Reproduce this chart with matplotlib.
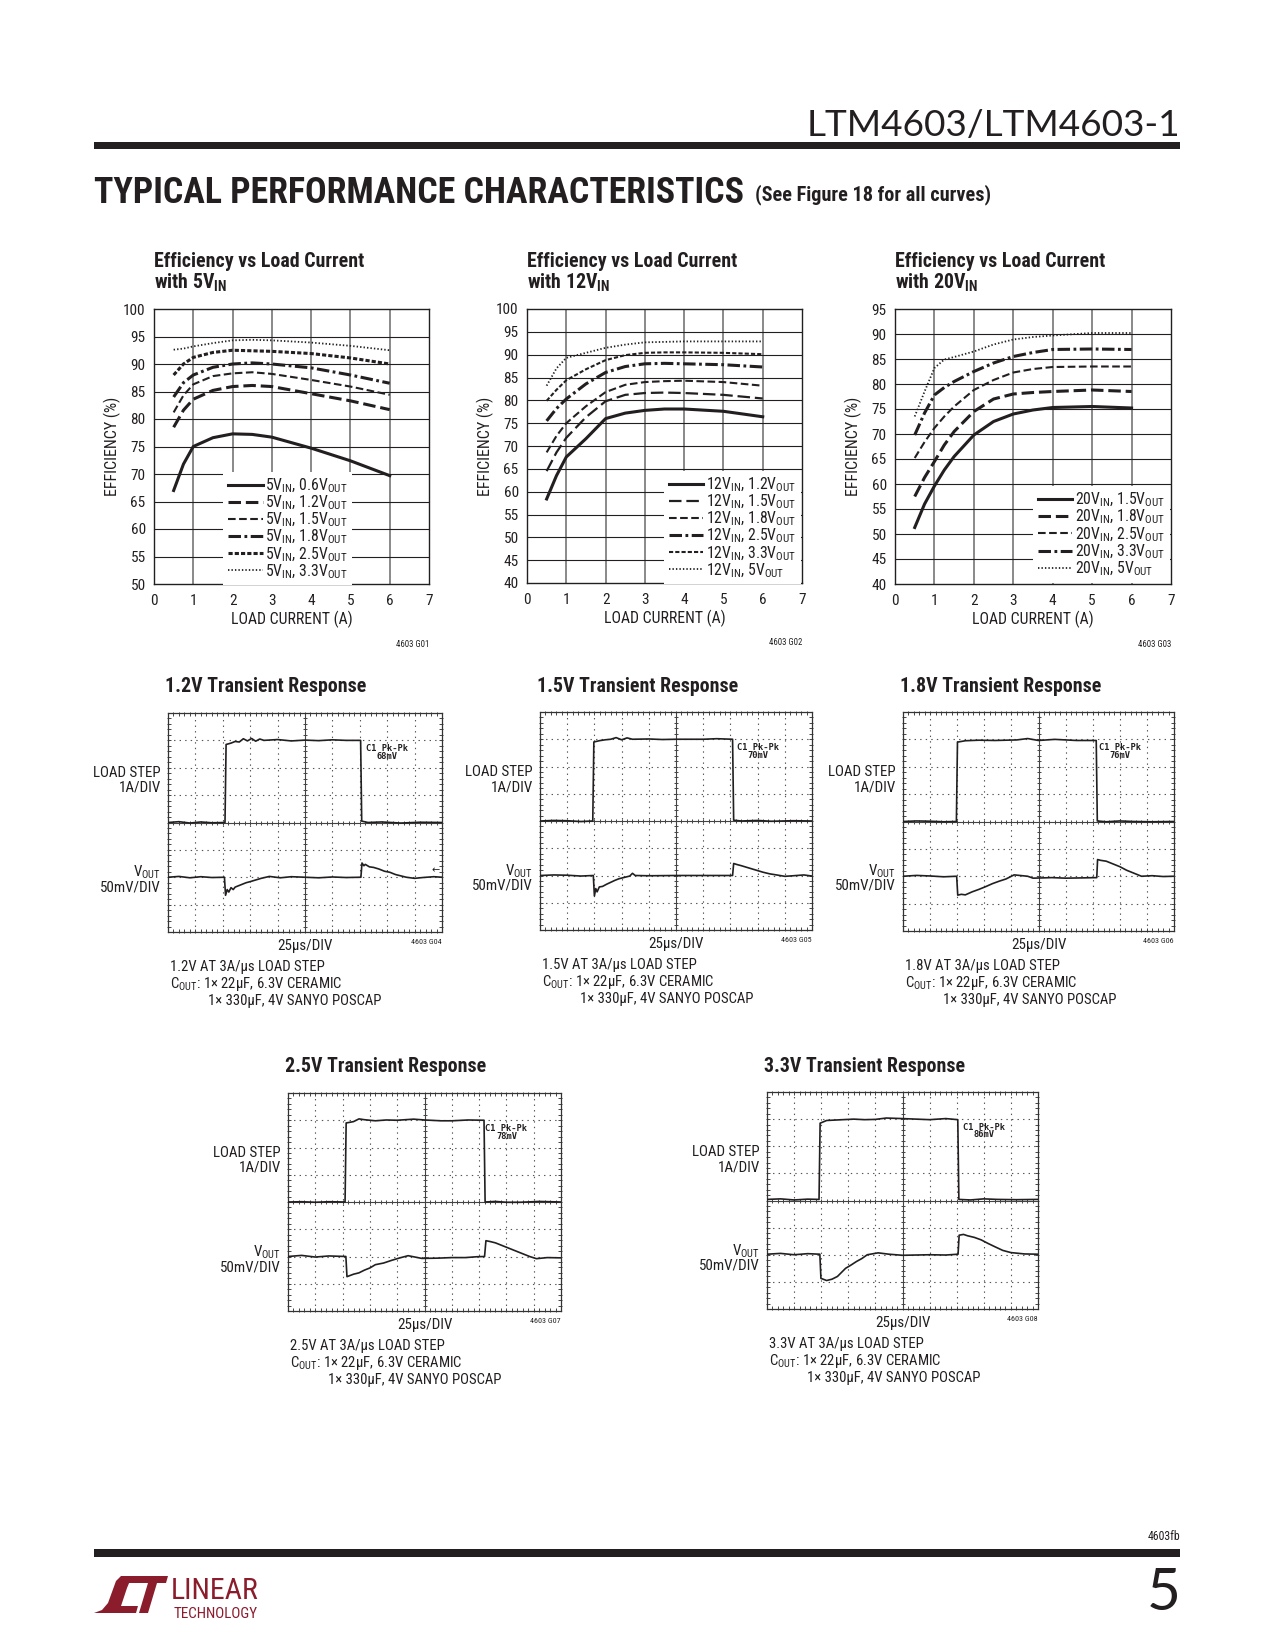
import numpy as np
import matplotlib
matplotlib.use("Agg")
from matplotlib import pyplot as plt
from matplotlib import font_manager as fm
from matplotlib.patches import Polygon, Rectangle

W, H = 1275, 1650
INK = '#231f20'
RED = '#8b1c2c'

# ---- efficiency data ----
LOAD_5V = [0.5, 0.75, 1, 1.5, 2, 2.5, 3, 4, 5, 6]
EFF_5V_06 = [67.0, 71.8, 75.0, 76.6, 77.3, 77.2, 76.7, 74.7, 72.4, 69.7]
EFF_5V_12 = [78.5, 81.6, 83.6, 85.2, 85.9, 86.1, 85.9, 84.6, 83.3, 81.7]
EFF_5V_15 = [81.2, 84.3, 86.3, 87.8, 88.3, 88.5, 88.2, 87.1, 85.9, 84.4]
EFF_5V_18 = [84.0, 86.6, 88.0, 89.4, 90.0, 90.2, 90.0, 89.3, 88.0, 86.5]
EFF_5V_25 = [88.0, 90.0, 91.2, 92.1, 92.5, 92.4, 92.3, 91.9, 91.1, 90.0]
EFF_5V_33 = [92.6, 92.8, 93.2, 93.8, 94.3, 94.4, 94.3, 93.9, 93.3, 92.5]
LABELS_5V = ['0.6', '1.2', '1.5', '1.8', '2.5', '3.3']

LOAD_12V = [0.5, 0.75, 1, 1.5, 2, 2.5, 3, 3.5, 4, 5, 6]
EFF_12V_12 = [58.4, 63.5, 67.6, 71.6, 76.0, 77.2, 77.8, 78.1, 78.1, 77.6, 76.4]
EFF_12V_15 = [64.5, 68.6, 71.8, 76.3, 79.8, 81.2, 81.6, 81.7, 81.6, 81.2, 80.4]
EFF_12V_18 = [68.6, 72.2, 75.0, 78.7, 81.8, 83.4, 84.0, 84.2, 84.3, 84.0, 83.2]
EFF_12V_25 = [75.5, 78.2, 80.3, 83.6, 86.1, 87.4, 88.0, 88.1, 88.0, 87.8, 87.3]
EFF_12V_33 = [79.9, 82.3, 84.4, 86.8, 88.8, 89.9, 90.4, 90.5, 90.5, 90.4, 90.1]
EFF_12V_50 = [83.2, 87.0, 89.3, 90.4, 91.5, 92.2, 92.7, 92.8, 92.9, 92.9, 92.9]
LABELS_12V = ['1.2', '1.5', '1.8', '2.5', '3.3', '5']

LOAD_20V = [0.5, 0.75, 1, 1.25, 1.5, 2, 2.5, 3, 3.5, 4, 5, 6]
EFF_20V_15 = [51.3, 56.0, 59.6, 62.8, 65.5, 69.8, 72.5, 74.0, 74.8, 75.3, 75.5, 75.2]
EFF_20V_18 = [57.5, 61.3, 64.5, 67.8, 70.5, 74.5, 77.0, 78.0, 78.3, 78.5, 78.8, 78.5]
EFF_20V_25 = [65.2, 68.4, 71.2, 73.5, 75.5, 78.8, 80.8, 82.3, 83.0, 83.4, 83.5, 83.5]
EFF_20V_33 = [69.8, 74.2, 77.8, 79.3, 80.5, 82.5, 84.2, 85.5, 86.3, 86.9, 87.0, 86.9]
EFF_20V_50 = [73.5, 78.5, 83.2, 84.9, 85.4, 86.5, 87.9, 88.9, 89.4, 89.7, 90.2, 90.2]
LABELS_20V = ['1.5', '1.8', '2.5', '3.3', '5']

# ---- scope traces, in divisions (10 x 8 screen) ----
STEP_12_T = [0, 0.4, 0.8, 1.2, 1.6, 2.08, 2.12, 2.3, 2.45, 2.6, 2.75, 2.9, 3.05, 3.2, 3.35, 3.5, 4.0,
             4.5, 5.0, 5.5, 6.0, 6.5, 7.03, 7.07, 7.3, 7.8, 8.5, 9.2, 10]
STEP_12_Y = [4.0, 4.03, 3.98, 4.02, 3.99, 4.0, 6.85, 6.9, 6.96, 6.94, 7.06, 6.98, 7.07, 6.97, 7.05,
             7.0, 7.03, 6.98, 7.01, 6.99, 7.02, 7.0, 7.0, 4.05, 4.0, 4.02, 3.98, 4.01, 4.0]
VOUT_12_T = [0, 0.4, 0.8, 1.2, 1.6, 2.06, 2.1, 2.16, 2.22, 2.3, 2.38, 2.45, 2.6, 2.7, 2.85, 3.0, 3.2,
             3.4, 3.7, 4.1, 4.5, 5.0, 5.5, 6.0, 6.5, 7.04, 7.08, 7.15, 7.2, 7.35, 7.5, 7.7, 7.9, 8.1,
             8.3, 8.5, 8.7, 9.0, 9.3, 9.7, 10]
VOUT_12_Y = [2.0, 2.03, 1.98, 2.02, 1.99, 2.0, 1.34, 1.55, 1.46, 1.62, 1.55, 1.64, 1.7, 1.74, 1.8,
             1.84, 1.9, 1.96, 2.03, 1.98, 2.02, 2.0, 1.98, 2.01, 1.99, 2.0, 2.52, 2.42, 2.47, 2.38,
             2.36, 2.3, 2.22, 2.18, 2.1, 2.05, 2.0, 1.96, 1.99, 2.02, 2.0]

STEP_15_T = [0, 0.5, 1.0, 1.5, 1.94, 1.98, 2.2, 2.4, 2.6, 2.8, 3.0, 3.2, 3.4, 4.0, 4.5, 5.0, 6.0, 6.5,
             7.08, 7.12, 7.4, 8.0, 8.5, 9.3, 10]
STEP_15_Y = [4.0, 4.02, 4.01, 3.98, 4.0, 6.9, 6.95, 6.98, 7.0, 7.06, 6.98, 7.05, 7.0, 7.01, 6.99,
             7.0, 7.0, 7.02, 7.0, 4.03, 4.0, 4.02, 3.99, 4.01, 4.0]
VOUT_15_T = [0, 0.5, 1.0, 1.5, 1.96, 2.0, 2.05, 2.1, 2.18, 2.3, 2.45, 2.6, 2.75, 2.9, 3.1, 3.3, 3.4,
             3.5, 4.0, 5.0, 6.0, 7.08, 7.12, 7.25, 7.4, 7.6, 7.8, 8.0, 8.2, 8.45, 8.7, 9.0, 9.3, 9.7, 10]
VOUT_15_Y = [2.0, 2.02, 2.01, 1.98, 2.0, 1.25, 1.52, 1.4, 1.58, 1.6, 1.68, 1.75, 1.82, 1.88, 1.93,
             1.98, 2.08, 2.0, 1.99, 2.0, 2.0, 2.0, 2.44, 2.4, 2.36, 2.3, 2.24, 2.18, 2.12, 2.06, 2.02,
             1.97, 1.99, 2.02, 1.98]

STEP_18_T = [0, 0.5, 1.0, 1.5, 1.97, 2.01, 2.3, 2.8, 3.4, 4.2, 4.6, 5.0, 5.6, 6.4, 7.13, 7.17, 7.5,
             8.0, 8.5, 9.2, 10]
STEP_18_Y = [4.0, 4.02, 4.01, 3.99, 4.0, 6.9, 6.95, 6.97, 6.96, 6.98, 7.03, 6.96, 7.0, 6.96, 6.96,
             4.02, 3.99, 4.02, 4.0, 3.99, 4.0]
VOUT_18_T = [0, 0.5, 1.0, 1.5, 1.98, 2.02, 2.15, 2.3, 2.55, 2.8, 3.05, 3.3, 3.55, 3.8, 4.1, 4.6, 4.8,
             5.5, 6.0, 6.6, 7.15, 7.18, 7.3, 7.5, 7.75, 8.0, 8.25, 8.5, 8.8, 9.2, 9.6, 10]
VOUT_18_Y = [2.0, 2.03, 2.01, 1.98, 2.0, 1.31, 1.34, 1.32, 1.43, 1.52, 1.62, 1.73, 1.82, 1.9, 2.05,
             2.0, 1.93, 1.95, 1.93, 1.94, 1.95, 2.61, 2.58, 2.55, 2.45, 2.35, 2.22, 2.12, 2.0, 2.02,
             1.99, 2.0]

STEP_25_T = [0, 0.5, 1.0, 1.5, 2.09, 2.13, 2.4, 2.6, 2.8, 3.2, 3.6, 4.0, 4.6, 5.0, 5.6, 6.0, 6.6,
             7.18, 7.22, 7.6, 8.0, 8.5, 9.2, 10]
STEP_25_Y = [4.0, 4.01, 3.99, 4.01, 4.0, 6.9, 6.95, 7.05, 7.02, 6.98, 7.01, 7.0, 7.04, 7.01, 6.98,
             6.98, 7.01, 7.0, 4.0, 4.02, 3.99, 3.99, 4.02, 4.0]
VOUT_25_T = [0, 0.5, 1.0, 1.5, 2.12, 2.16, 2.4, 2.6, 2.8, 3.0, 3.2, 3.5, 3.8, 4.1, 4.4, 4.9, 5.5, 6.0,
             6.5, 6.9, 7.2, 7.25, 7.4, 7.6, 7.85, 8.1, 8.35, 8.6, 8.85, 9.1, 9.5, 10]
VOUT_25_Y = [2.0, 2.04, 1.98, 2.02, 2.0, 1.26, 1.35, 1.4, 1.5, 1.58, 1.7, 1.76, 1.86, 1.95, 2.03, 1.93,
             1.94, 1.96, 1.96, 1.99, 2.0, 2.58, 2.55, 2.5, 2.4, 2.3, 2.2, 2.1, 2.0, 1.92, 1.96, 1.95]

STEP_33_T = [0, 0.5, 1.0, 1.5, 1.92, 1.96, 2.2, 2.6, 3.2, 3.6, 4.0, 4.4, 5.0, 6.0, 6.6, 7.04, 7.08,
             7.5, 8.0, 8.5, 9.2, 10]
STEP_33_Y = [4.04, 4.06, 4.02, 4.05, 4.04, 6.85, 6.95, 6.97, 7.0, 6.98, 6.99, 7.04, 7.02, 6.98, 7.02,
             6.98, 4.04, 4.02, 4.06, 4.04, 4.03, 4.04]
VOUT_33_T = [0, 0.5, 1.0, 1.5, 1.95, 1.99, 2.2, 2.4, 2.6, 2.75, 2.9, 3.1, 3.3, 3.5, 3.7, 4.1, 4.5,
             5.0, 6.0, 6.6, 7.05, 7.09, 7.25, 7.4, 7.65, 7.9, 8.15, 8.4, 8.7, 9.0, 9.5, 10]
VOUT_33_Y = [2.02, 2.05, 2.0, 2.04, 2.02, 1.13, 1.05, 1.1, 1.2, 1.35, 1.5, 1.62, 1.75, 1.86, 2.0,
             2.07, 2.02, 1.98, 2.0, 1.99, 2.02, 2.72, 2.75, 2.7, 2.64, 2.55, 2.42, 2.3, 2.16, 2.08,
             2.03, 2.02]

DASHES = {
    'solid': (None, 2.2),
    'long': ((9, 3.5), 2.2),
    'long_thin': ((9, 3.5), 1.6),
    'mid': ((5.5, 2.5), 1.5),
    'dashdot': ((9, 2.5, 2, 2.5), 2.2),
    'short': ((3, 1.5), 2.2),
    'short_thin': ((3, 1.5), 1.5),
    'dot': ((1, 1.5), 1.3),
}


# ---- find a condensed sans (datasheet look) and register it as 'CondSans' ----
STRETCH = {'ultra-condensed': 50, 'extra-condensed': 62.5, 'condensed': 75,
           'semi-condensed': 87.5, 'normal': 100}
PREF = ['Liberation Sans Narrow', 'Arial Narrow', 'Roboto Condensed', 'Open Sans Condensed',
        'Noto Sans', 'Open Sans', 'Noto Sans Display', 'DejaVu Sans', 'Fira Sans Condensed',
        'IBM Plex Sans Condensed']


def stretch_val(s):
    if isinstance(s, (int, float)):
        return s
    return STRETCH.get(s, 100)


def find_condensed(weight):
    best = None
    for f in fm.fontManager.ttflist:
        if f.style != 'normal' or f.name not in PREF:
            continue
        narrow = 'Narrow' in f.name or 'Condensed' in f.name or stretch_val(f.stretch) < 100
        if not narrow:
            continue
        w = f.weight if isinstance(f.weight, (int, float)) else fm.weight_dict.get(f.weight, 400)
        score = (PREF.index(f.name), abs(w - weight), abs(stretch_val(f.stretch) - 75))
        if best is None or score < best[0]:
            best = (score, f.fname)
    if best is None:
        prop = fm.FontProperties(family='Liberation Sans', weight=weight)
        return fm.findfont(prop)
    return best[1]


for wt in (400, 700):
    fm.fontManager.ttflist.append(fm.FontEntry(fname=find_condensed(wt), name='CondSans',
                                               style='normal', variant='normal', weight=wt,
                                               stretch='normal', size='scalable'))

plt.rcParams['font.family'] = ['CondSans', 'DejaVu Sans']
plt.rcParams['lines.scale_dashes'] = False
plt.rcParams['mathtext.fontset'] = 'custom'
plt.rcParams['mathtext.rm'] = 'CondSans'
plt.rcParams['mathtext.bf'] = 'CondSans:bold'


def px_axes(fig, x0, y0, x1, y1):
    return fig.add_axes([x0 / W, 1 - y1 / H, (x1 - x0) / W, (y1 - y0) / H])


def ftext(fig, x, y, s, width=None, **kw):
    kw.setdefault('color', INK)
    t = fig.text(x / W, 1 - y / H, s, **kw)
    if width:
        r = fig.canvas.get_renderer()
        w = t.get_window_extent(r).width
        t.set_fontsize(t.get_fontsize() * width / w)
    return t


def sub(s):
    return r'$\mathregular{_{%s}}$' % s


def eff_chart(fig, box, ymin, ymax, vin, load, series, vouts, styles, legend_anchor, fig_id):
    x0, y0, x1, y1 = box
    ax = px_axes(fig, x0, y0, x1, y1)
    ax.set_xlim(0, 7)
    ax.set_ylim(ymin, ymax)
    ax.set_xticks(range(0, 8))
    ax.set_yticks(range(ymin, ymax + 1, 5))
    for xv in range(1, 7):
        ax.axvline(xv, color='#6a6a6a', lw=1.1, zorder=1)
    for yv in range(ymin + 5, ymax, 5):
        ax.axhline(yv, color=INK, lw=0.8, zorder=1)
    for sp in ax.spines.values():
        sp.set_color(INK)
        sp.set_linewidth(1.0)
    ax.tick_params(length=0, labelsize=11, labelcolor=INK)
    ax.tick_params(axis='y', pad=6)
    ax.tick_params(axis='x', pad=7)

    handles = []
    for vals, vout, st in zip(series, vouts, styles):
        dash, lw = DASHES[st]
        ln, = ax.plot(load, vals, color=INK, lw=lw, zorder=3,
                      label=f'{vin}V{sub("IN")}, {vout}V{sub("OUT")}')
        if dash is not None:
            ln.set_dashes(dash)
        handles.append(ln)
    leg = ax.legend(handles=handles, loc='lower right', bbox_to_anchor=legend_anchor,
                    frameon=True, facecolor='white', edgecolor='none', framealpha=1,
                    fancybox=False, fontsize=11.3, handlelength=2.2, handletextpad=0.15,
                    labelspacing=-0.08, borderpad=0.3, borderaxespad=0)
    leg.set_zorder(5)
    for t in leg.get_texts():
        t.set_color(INK)

    cx = (x0 + x1) / 2
    t = ftext(fig, x0, y0 - 42, 'Efficiency vs Load Current', width=209, fontsize=14.5,
              fontweight='bold', va='baseline')
    ftext(fig, x0, y0 - 20, f'with {vin}V' + r'$\mathbf{_{IN}}$', fontsize=t.get_fontsize(),
          fontweight='bold', va='baseline')
    ftext(fig, cx, y1 + 35, 'LOAD CURRENT (A)', fontsize=11.3, ha='center', va='center')
    ftext(fig, x0 - 42, (y0 + y1) / 2, 'EFFICIENCY (%)', fontsize=11.5, rotation=90,
          ha='center', va='center')
    ftext(fig, x1, y1 + 60, f'4603 {fig_id}', fontsize=6.3, ha='right', va='center')
    return ax


def scope_chart(fig, box, vout_name, step_t, step_y, vout_t, vout_y, pk, fig_id, arrow=False):
    x0, y0, x1, y1 = box
    ax = px_axes(fig, x0, y0, x1, y1)
    ax.set_xlim(0, 10)
    ax.set_ylim(0, 8)
    ax.set_xticks([])
    ax.set_yticks([])
    for xv in range(1, 10):
        if xv != 5:
            ax.axvline(xv, color='#555555', lw=0.8, dashes=(1, 3), zorder=1)
    for yv in range(1, 8):
        if yv != 4:
            ax.axhline(yv, color='#555555', lw=0.8, dashes=(1, 3), zorder=1)
    ax.axvline(5, color='#444444', lw=0.8, zorder=1)
    ax.axhline(4, color='#444444', lw=0.8, zorder=1)
    minor_x = np.arange(0.2, 10, 0.2)
    minor_y = np.arange(0.2, 8, 0.2)
    tick_kw = dict(color='#444444', mew=0.7, zorder=1, clip_on=False, ls='none')
    ax.plot(minor_x, np.full(len(minor_x), 4), marker='|', ms=3.5, **tick_kw)
    ax.plot(np.full(len(minor_y), 5), minor_y, marker='_', ms=3.5, **tick_kw)
    ax.plot(minor_x, np.full(len(minor_x), 0.04), marker='|', ms=3, **tick_kw)
    ax.plot(minor_x, np.full(len(minor_x), 7.96), marker='|', ms=3, **tick_kw)
    ax.plot(np.full(len(minor_y), 0.05), minor_y, marker='_', ms=3, **tick_kw)
    ax.plot(np.full(len(minor_y), 9.95), minor_y, marker='_', ms=3, **tick_kw)
    for sp in ax.spines.values():
        sp.set_color('#333333')
        sp.set_linewidth(0.9)

    ax.plot(step_t, step_y, color=INK, lw=1.2, zorder=3)
    ax.plot(vout_t, vout_y, color=INK, lw=1.2, zorder=3)
    if arrow:
        ax.text(9.93, 2.25, '\u2190', fontsize=7, family='DejaVu Sans', ha='right', va='center',
                color=INK)
    ax.text(8.0, 6.7, 'C1 Pk-Pk', fontsize=6.3, fontweight='bold', family='DejaVu Sans Mono',
            ha='center', va='center', color=INK)
    ax.text(8.0, 6.42, f'{pk}mV', fontsize=6.3, fontweight='bold', family='DejaVu Sans Mono',
            ha='center', va='center', color=INK)

    ftext(fig, x0 - 3, y0 - 26, f'{vout_name}V Transient Response', width=200, fontsize=13.5,
          fontweight='bold', va='center')
    lx = x0 - 7
    ftext(fig, lx, y0 + 60, 'LOAD STEP', fontsize=10.8, ha='right', va='center')
    ftext(fig, lx, y0 + 75, '1A/DIV', fontsize=10.8, ha='right', va='center')
    ftext(fig, lx, y0 + 159, 'V' + sub('OUT'), fontsize=10.8, ha='right', va='center')
    ftext(fig, lx, y0 + 174, '50mV/DIV', fontsize=10.8, ha='right', va='center')
    ftext(fig, (x0 + x1) / 2, y1 + 14, '25\u00b5s/DIV', fontsize=10.8, ha='center', va='center')
    ftext(fig, x1, y1 + 10, f'4603 {fig_id}', fontsize=5.8, ha='right', va='center')
    ftext(fig, x0 + 2, y1 + 35, f'{vout_name}V AT 3A/\u00b5s LOAD STEP', fontsize=10.6, va='center')
    ftext(fig, x0 + 2, y1 + 52, 'C' + sub('OUT') + ': 1\u00d7 22\u00b5F, 6.3V CERAMIC', fontsize=10.6,
          va='center')
    ftext(fig, x0 + 40, y1 + 69, '1\u00d7 330\u00b5F, 4V SANYO POSCAP', fontsize=10.6, va='center')
    return ax


def fig_rect(fig, x0, y0, x1, y1, color):
    fig.add_artist(Rectangle((x0 / W, 1 - y1 / H), (x1 - x0) / W, (y1 - y0) / H,
                             transform=fig.transFigure, color=color, lw=0))


def fig_poly(fig, pts, color):
    fig.add_artist(Polygon([(x / W, 1 - y / H) for x, y in pts], closed=True,
                           transform=fig.transFigure, color=color, lw=0))


fig = plt.figure(figsize=(W / 100, H / 100), dpi=100)
fig.patch.set_facecolor('white')

# header
ftext(fig, 1180, 136, 'LTM4603/LTM4603-1', width=374, fontsize=29, family=['Lato', 'DejaVu Sans'],
      ha='right', va='baseline')
fig_rect(fig, 94, 141.5, 1180, 149, INK)
ftext(fig, 94, 203, 'TYPICAL PERFORMANCE CHARACTERISTICS', width=651, fontsize=27,
      fontweight='bold', va='baseline')
ftext(fig, 755, 200, '(See Figure 18 for all curves)', width=236, fontsize=12.5,
      fontweight='bold', va='baseline')

# efficiency charts
eff_chart(fig, (154, 309, 429, 584), 50, 100, 5, LOAD_5V,
          [EFF_5V_06, EFF_5V_12, EFF_5V_15, EFF_5V_18, EFF_5V_25, EFF_5V_33], LABELS_5V,
          ['solid', 'long', 'mid', 'dashdot', 'short', 'dot'], (0.72, -0.005), 'G01')
eff_chart(fig, (527, 309, 802, 583), 40, 100, 12, LOAD_12V,
          [EFF_12V_12, EFF_12V_15, EFF_12V_18, EFF_12V_25, EFF_12V_33, EFF_12V_50], LABELS_12V,
          ['solid', 'long_thin', 'mid', 'dashdot', 'short_thin', 'dot'], (0.995, -0.005), 'G02')
eff_chart(fig, (895, 309, 1171, 584), 40, 95, 20, LOAD_20V,
          [EFF_20V_15, EFF_20V_18, EFF_20V_25, EFF_20V_33, EFF_20V_50], LABELS_20V,
          ['solid', 'long', 'mid', 'dashdot', 'dot'], (0.995, 0.005), 'G03')

# transient charts
scope_chart(fig, (168, 713, 442, 932), '1.2', STEP_12_T, STEP_12_Y, VOUT_12_T, VOUT_12_Y, 68, 'G04',
            arrow=True)
scope_chart(fig, (540, 712, 812, 930), '1.5', STEP_15_T, STEP_15_Y, VOUT_15_T, VOUT_15_Y, 70, 'G05')
scope_chart(fig, (903, 712, 1174, 931), '1.8', STEP_18_T, STEP_18_Y, VOUT_18_T, VOUT_18_Y, 76, 'G06')
scope_chart(fig, (288, 1093, 561, 1311), '2.5', STEP_25_T, STEP_25_Y, VOUT_25_T, VOUT_25_Y, 78, 'G07')
scope_chart(fig, (767, 1092, 1038, 1309), '3.3', STEP_33_T, STEP_33_Y, VOUT_33_T, VOUT_33_Y, 86, 'G08')

# footer
ftext(fig, 1180, 1536, '4603fb', fontsize=8.5, ha='right', va='center')
fig_rect(fig, 94, 1549, 1180, 1557, INK)
ftext(fig, 1181, 1610, '5', fontsize=42, family=['Lato', 'DejaVu Sans'], ha='right', va='baseline')

# logo
fig_poly(fig, [(94, 1613), (102, 1610), (108, 1603), (112, 1592), (116, 1581), (121, 1576),
               (132, 1576), (127, 1588), (123, 1600), (121, 1606), (138, 1606), (136, 1613)], RED)
fig_poly(fig, [(128, 1576), (168, 1576), (166, 1583), (157, 1583), (148, 1613), (139, 1613),
               (148, 1583), (126, 1583)], RED)
ftext(fig, 171, 1599, 'LINEAR', width=88, fontsize=24, color=RED, va='baseline')
ftext(fig, 174, 1618, 'TECHNOLOGY', width=84, fontsize=7.5, color=RED, va='baseline')

fig.savefig('out.png', dpi=100, facecolor='white')
